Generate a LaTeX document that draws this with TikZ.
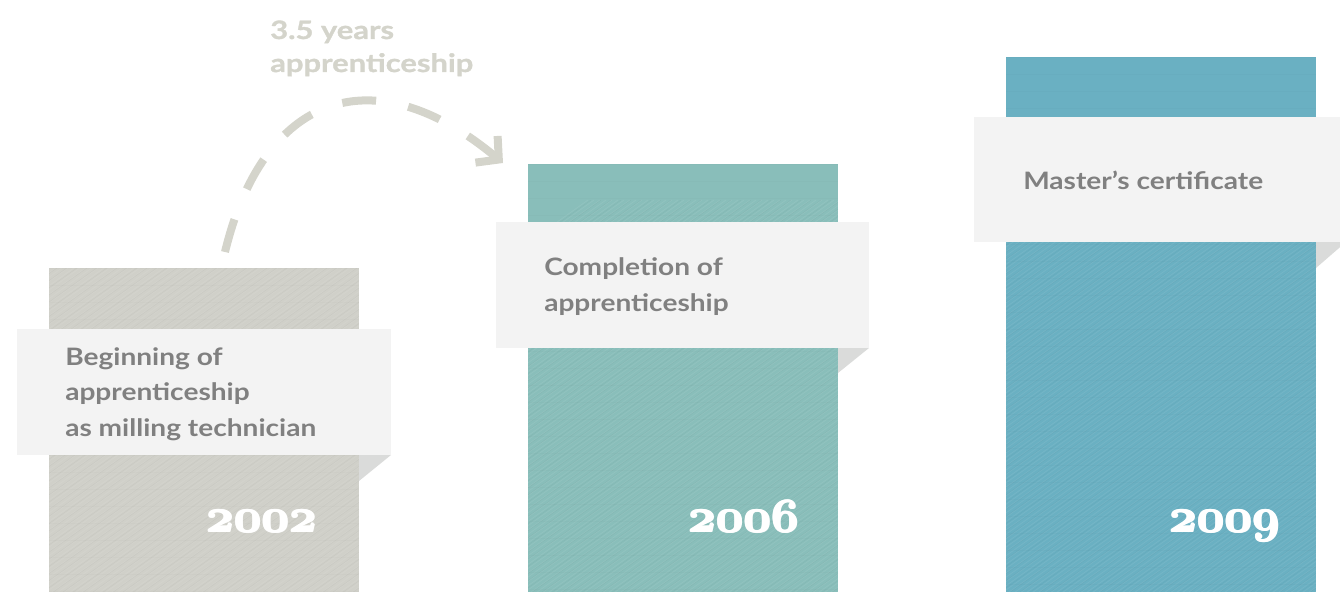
\RequirePackage{fix-cm}
\documentclass[tikz,border=0pt]{standalone}
\usepackage{fontspec}
\setmainfont{Lato}
\newfontfamily\labelfont{Lato}[FakeStretch=1.17]
\newfontfamily\topfont{Lato}[FakeStretch=1.22,FakeBold=1.2]
\usetikzlibrary{arrows.meta}
\definecolor{bargray}{RGB}{208,208,201}
\definecolor{barteal}{RGB}{137,190,186}
\definecolor{barblue}{RGB}{106,176,194}
\definecolor{boxfill}{RGB}{243,243,243}
\definecolor{foldc}{RGB}{218,219,218}
\definecolor{labeltext}{RGB}{128,128,128}
\definecolor{arrowc}{RGB}{212,212,203}
\newcommand\yrdigits[1]{{\boldmath$\mathnormal{#1}$}}
\newcommand\yrbold[1]{\rlap{\yrdigits{#1}}\rlap{\kern0.7pt\yrdigits{#1}}\rlap{\raisebox{0.35pt}{\yrdigits{#1}}}\rlap{\kern1.4pt\yrdigits{#1}}\kern0.7pt\raisebox{0.35pt}{\yrdigits{#1}}\kern0.7pt}
\tikzset{
  bar/.style={inner sep=0pt, outer sep=0pt, anchor=south west, minimum width=232.5pt},
  labelbox/.style={fill=boxfill, inner sep=0pt, outer sep=0pt, anchor=north west, minimum height=94.5pt},
  fold/.style={fill=foldc},
  labeltxt/.style={font=\labelfont\bfseries\fontsize{18}{26.3}\selectfont, text=labeltext, align=left, anchor=base west, inner sep=0pt},
  yeartxt/.style={font=\fontsize{36}{40}\selectfont, text=white, anchor=base east, inner sep=0pt},
  toptxt/.style={font=\topfont\bfseries\fontsize{19}{24.75}\selectfont, text=arrowc, align=left, anchor=base west, inner sep=0pt},
  dasharrow/.style={draw=arrowc, line width=6pt, dash pattern=on 25.5pt off 24.5pt, -{Straight Barb[sharp,length=12pt,width=26pt,line width=6pt]}}
}
\begin{document}
\begin{tikzpicture}[x=0.75pt,y=-0.75pt]
\useasboundingbox (0,0) rectangle (1340,592);
% bars
\node[bar, fill=bargray, minimum height=243pt] (bar1) at (49,592) {};
\node[bar, fill=barteal, minimum height=321pt] (bar2) at (528,592) {};
\node[bar, fill=barblue, minimum height=401.25pt] (bar3) at (1006,592) {};
% texture
\foreach \bx/\by in {49/268, 528/164, 1006/57}{
  \begin{scope}
    \clip (\bx,\by) rectangle ++(310,600);
    \foreach \k in {0,6,...,1200}{
      \draw[white, opacity=0.07, line width=0.6pt] (\bx-500+\k,600) -- ++(560,-400);
    }
    \foreach \k in {3,13,...,1200}{
      \draw[black, opacity=0.03, line width=0.4pt] (\bx-500+\k,600) -- ++(560,-400);
    }
    \foreach \k in {0,17,...,540}{
      \draw[black, opacity=0.012, line width=0.5pt] (\bx,\by+\k) -- ++(310,0);
    }
  \end{scope}
}
% folds
\fill[fold] (359,455) -- (391,455) -- (359,481) -- cycle;
\fill[fold] (838,348) -- (869,348) -- (838,373) -- cycle;
\fill[fold] (1316,242) -- (1346,242) -- (1316,268) -- cycle;
% label boxes
\node[labelbox, minimum width=280.5pt] (box1) at (17,329) {};
\node[labelbox, minimum width=279.75pt] (box2) at (496,222) {};
\node[labelbox, minimum width=274.5pt, minimum height=93.75pt] (box3) at (974,117) {};
% label texts (base anchor = last line)
\node[labeltxt] (lbl1) at (65,436) {Beginning of\\apprenticeship\\as milling technician};
\node[labeltxt] (lbl2) at (544,311) {Completion of\\apprenticeship};
\node[labeltxt] (lbl3) at (1023,190) {Master’s certificate};
% years
\node[yeartxt] (y1) at (318,532) {\yrbold{2002}};
\node[yeartxt] (y2) at (800,532) {\yrbold{2006}};
\node[yeartxt] (y3) at (1281,532) {\yrbold{2009}};
% top text
\node[toptxt] (dur) at (270,72) {3.5 years\\apprenticeship};
% arrow
\coordinate (arrS) at (225,252);
\coordinate (arrE) at (503,163);
\draw[dasharrow] (arrS) .. controls (263,95) and (372,54) .. (arrE);
\end{tikzpicture}
\end{document}
